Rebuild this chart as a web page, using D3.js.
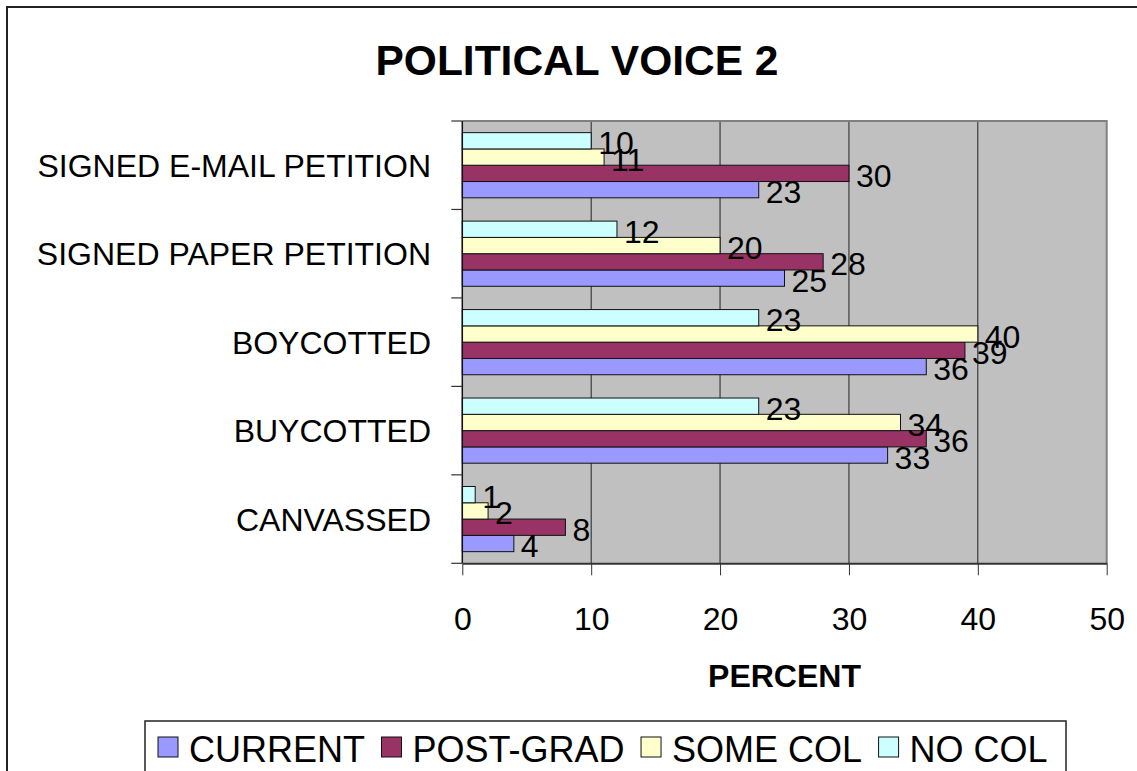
<!DOCTYPE html>
<html>
<head>
<meta charset="utf-8">
<script src="https://cdn.jsdelivr.net/npm/d3@7"></script>
<style>
  html, body { margin: 0; padding: 0; background: #fff; }
  svg { display: block; font-family: "Liberation Sans", Arial, sans-serif; }
</style>
</head>
<body>
<svg id="chart" width="1137" height="771"></svg>
<script>
// Activity categories, top to bottom
const categories = ["SIGNED E-MAIL PETITION", "SIGNED PAPER PETITION", "BOYCOTTED", "BUYCOTTED", "CANVASSED"];
// Series, in legend order
const seriesNames = ["CURRENT", "POST-GRAD", "SOME COL", "NO COL"];
const seriesColors = ["#9999FF", "#993366", "#FFFFCC", "#CCFFFF"];
// Percent per category, one array per series
const current  = [23, 25, 36, 33, 4];
const postGrad = [30, 28, 39, 36, 8];
const someCol  = [11, 20, 40, 34, 2];
const noCol    = [10, 12, 23, 23, 1];
const xTicks = [0, 10, 20, 30, 40, 50];

const seriesValues = [current, postGrad, someCol, noCol];
const rows = [];
categories.forEach((c, ci) => {
  seriesNames.forEach((s, si) => {
    rows.push({ cat: c, series: s, color: seriesColors[si], value: seriesValues[si][ci] });
  });
});

const svg = d3.select("#chart");
const plot = { left: 462.3, right: 1106.7, top: 121, bottom: 563.3 };

// Outer chart frame
svg.append("rect")
  .attr("x", 7).attr("y", 7).attr("width", 1150).attr("height", 800)
  .attr("fill", "#fff").attr("stroke", "#222").attr("stroke-width", 2);

// Title
svg.append("text")
  .attr("x", 577).attr("y", 75)
  .attr("text-anchor", "middle")
  .attr("font-size", 42.5).attr("font-weight", "bold")
  .text("POLITICAL VOICE 2");

const x = d3.scaleLinear().domain([0, 50]).range([plot.left, plot.right]);
const y = d3.scaleBand().domain(categories).range([plot.top, plot.bottom]).padding(0);
// Bars inside a category: NO COL on top, CURRENT at the bottom
const ySeries = d3.scaleBand()
  .domain(seriesNames.slice().reverse())
  .range([0, y.bandwidth()])
  .paddingInner(0).paddingOuter(0.715);

// Plot background
svg.append("rect")
  .attr("x", plot.left).attr("y", plot.top)
  .attr("width", plot.right - plot.left).attr("height", plot.bottom - plot.top)
  .attr("fill", "#C0C0C0");

// Vertical gridlines
svg.append("g")
  .selectAll("line")
  .data(xTicks.filter(t => t > 0 && t < 50))
  .join("line")
  .attr("x1", d => x(d)).attr("x2", d => x(d))
  .attr("y1", plot.top).attr("y2", plot.bottom)
  .attr("stroke", "#222").attr("stroke-width", 1);

// Plot border (top and right)
svg.append("path")
  .attr("d", `M${plot.left},${plot.top}H${plot.right}V${plot.bottom}`)
  .attr("fill", "none").attr("stroke", "#808080").attr("stroke-width", 2);

// Bars
svg.append("g")
  .selectAll("rect")
  .data(rows)
  .join("rect")
  .attr("x", x(0))
  .attr("y", d => y(d.cat) + ySeries(d.series))
  .attr("width", d => x(d.value) - x(0))
  .attr("height", ySeries.bandwidth())
  .attr("fill", d => d.color)
  .attr("stroke", "#111").attr("stroke-width", 1);

// X axis
const xAxis = svg.append("g")
  .attr("transform", `translate(0,${plot.bottom})`)
  .call(d3.axisBottom(x).tickValues(xTicks).tickSize(12).tickPadding(32).tickSizeOuter(0));
xAxis.select(".domain").attr("stroke", "#333").attr("stroke-width", 2);
xAxis.selectAll(".tick line").attr("stroke", "#333");
xAxis.selectAll(".tick text")
  .attr("font-size", 32).attr("fill", "#000")
  .attr("font-family", "'Liberation Sans', Arial, sans-serif");

// Y axis: ticks at category boundaries
const yAxis = svg.append("g");
yAxis.append("line")
  .attr("x1", plot.left).attr("x2", plot.left)
  .attr("y1", plot.top).attr("y2", plot.bottom)
  .attr("stroke", "#111").attr("stroke-width", 1.5);
const boundaries = categories.map(c => y(c)).concat([plot.bottom]);
yAxis.selectAll(".bt")
  .data(boundaries)
  .join("line")
  .attr("class", "bt")
  .attr("x1", plot.left - 11).attr("x2", plot.left)
  .attr("y1", d => d).attr("y2", d => d)
  .attr("stroke", "#333").attr("stroke-width", 1.2);
yAxis.selectAll("text")
  .data(categories)
  .join("text")
  .attr("x", 431)
  .attr("y", d => y(d) + y.bandwidth() / 2 + 11.5)
  .attr("text-anchor", "end")
  .attr("font-size", 32)
  .text(d => d);

// Value labels
svg.append("g")
  .selectAll("text")
  .data(rows)
  .join("text")
  .attr("x", d => x(d.value) + 7)
  .attr("y", d => y(d.cat) + ySeries(d.series) + ySeries.bandwidth() / 2 + 13.5)
  .attr("font-size", 32)
  .text(d => d.value);

// Axis title
svg.append("text")
  .attr("x", (plot.left + plot.right) / 2).attr("y", 686.5)
  .attr("text-anchor", "middle")
  .attr("font-size", 32).attr("font-weight", "bold")
  .text("PERCENT");

// Legend
const legend = svg.append("g");
legend.append("rect")
  .attr("x", 145).attr("y", 721).attr("width", 1066 - 145).attr("height", 120)
  .attr("fill", "#fff").attr("stroke", "#222").attr("stroke-width", 1.5);
let lx = 158;
seriesNames.forEach((s, i) => {
  legend.append("rect")
    .attr("x", lx).attr("y", 737).attr("width", 20).attr("height", 20)
    .attr("fill", seriesColors[i]).attr("stroke", "#111").attr("stroke-width", 1);
  const t = legend.append("text")
    .attr("x", lx + 31).attr("y", 761.5)
    .attr("font-size", 36)
    .text(s);
  lx += 31 + t.node().getComputedTextLength() + 16.5;
});
</script>
</body>
</html>
